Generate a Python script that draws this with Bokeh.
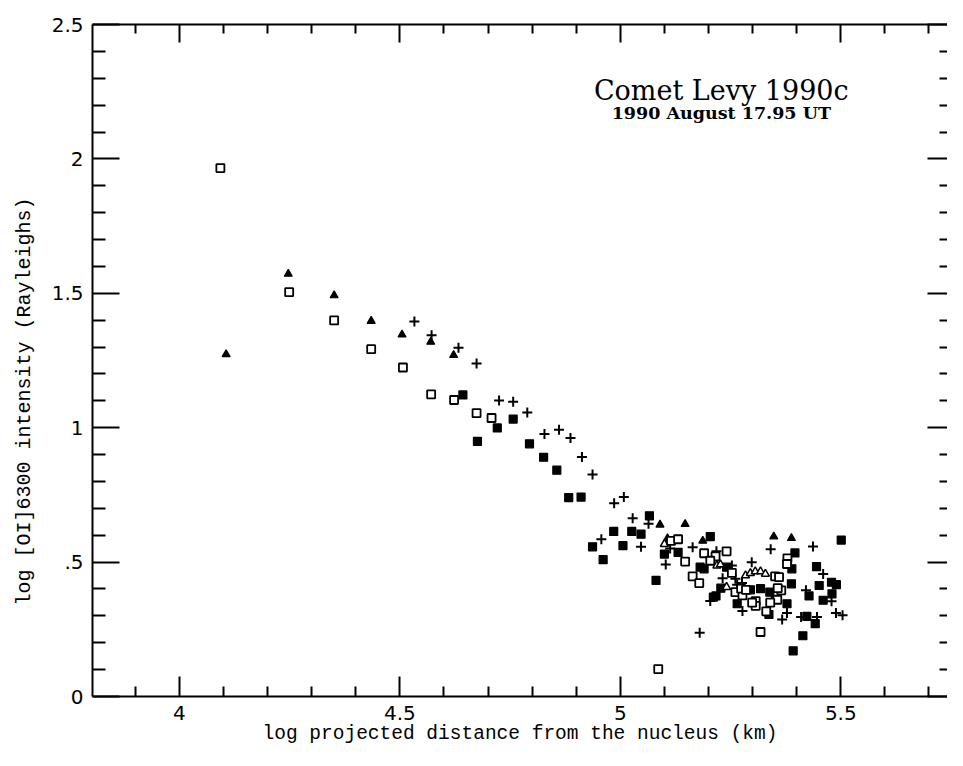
from bokeh.plotting import figure
from bokeh.models import (LinearAxis, FixedTicker, Label, Range1d,
                          CustomJSTickFormatter, Title)
from bokeh.embed import file_html
from bokeh.resources import INLINE

# ---------------- data ----------------
# open squares
sq_x = [4.093, 4.249, 4.351, 4.435, 4.507, 4.571, 4.623, 4.674, 4.708, 5.086,
        5.115, 5.131, 5.147, 5.190, 5.216, 5.241, 5.204, 5.164, 5.179, 5.253,
        5.351, 5.360, 5.379, 5.378, 5.365, 5.356, 5.340, 5.331, 5.318, 5.307,
        5.307, 5.299, 5.261, 5.277, 5.274, 5.285, 5.357]
sq_y = [1.966, 1.504, 1.399, 1.292, 1.224, 1.124, 1.103, 1.054, 1.036, 0.102,
        0.579, 0.585, 0.502, 0.533, 0.521, 0.540, 0.505, 0.447, 0.422, 0.460,
        0.447, 0.444, 0.514, 0.493, 0.395, 0.360, 0.349, 0.317, 0.240, 0.355,
        0.337, 0.349, 0.388, 0.376, 0.401, 0.397, 0.403]

# filled triangles
tri_x = [4.106, 4.247, 4.351, 4.435, 4.505, 4.570, 4.622, 5.090, 5.147, 5.348,
         5.388, 5.107, 5.187]
tri_y = [1.273, 1.572, 1.492, 1.397, 1.346, 1.319, 1.270, 0.639, 0.641, 0.595,
         0.589, 0.588, 0.579]

# open triangles
otri_x = [5.100, 5.219, 5.227, 5.284, 5.295, 5.306, 5.318, 5.329, 5.241, 5.345]
otri_y = [0.567, 0.487, 0.491, 0.450, 0.459, 0.465, 0.465, 0.456, 0.407, 0.357]

# plus signs
pl_x = [4.533, 4.572, 4.633, 4.674, 4.725, 4.757, 4.789, 4.828, 4.861, 4.887,
        4.913, 4.937, 4.986, 5.008, 5.028, 5.064, 4.957, 5.047, 5.103, 5.113,
        5.164, 5.218, 5.232, 5.204, 5.180, 5.253, 5.298, 5.341, 5.437, 5.460,
        5.479, 5.421, 5.378, 5.446, 5.489, 5.504, 5.277, 5.265, 5.276, 5.261,
        5.410, 5.367]
pl_y = [1.395, 1.344, 1.297, 1.239, 1.101, 1.097, 1.057, 0.977, 0.992, 0.962,
        0.891, 0.826, 0.719, 0.742, 0.663, 0.643, 0.585, 0.557, 0.491, 0.551,
        0.555, 0.540, 0.440, 0.355, 0.237, 0.487, 0.499, 0.548, 0.558, 0.456,
        0.354, 0.395, 0.311, 0.296, 0.311, 0.302, 0.318, 0.416, 0.422, 0.438,
        0.296, 0.286]

# filled squares
fs_x = [4.643, 4.757, 4.721, 4.676, 4.794, 4.826, 4.856, 4.883, 4.911, 5.066,
        4.985, 5.026, 5.047, 4.937, 5.006, 4.961, 5.100, 5.081, 5.131, 5.204,
        5.181, 5.190, 5.241, 5.228, 5.217, 5.396, 5.389, 5.445, 5.501, 5.451,
        5.479, 5.490, 5.480, 5.460, 5.428, 5.388, 5.378, 5.337, 5.392, 5.414,
        5.423, 5.442, 5.265, 5.295, 5.318, 5.339, 5.211]
fs_y = [1.122, 1.032, 0.999, 0.949, 0.940, 0.890, 0.842, 0.740, 0.742, 0.672,
        0.614, 0.614, 0.604, 0.557, 0.561, 0.509, 0.530, 0.432, 0.536, 0.595,
        0.481, 0.475, 0.481, 0.403, 0.374, 0.534, 0.475, 0.483, 0.582, 0.413,
        0.425, 0.416, 0.382, 0.358, 0.374, 0.419, 0.345, 0.305, 0.170, 0.226,
        0.298, 0.271, 0.345, 0.397, 0.401, 0.388, 0.370]

# ticks
x_major = [4.0, 4.5, 5.0, 5.5]
x_major_labels = ["4", "4.5", "5", "5.5"]
x_minor = [3.9, 4.1, 4.2, 4.3, 4.4, 4.6, 4.7, 4.8, 4.9, 5.1, 5.2, 5.3, 5.4, 5.6, 5.7]
y_major = [0.0, 0.5, 1.0, 1.5, 2.0, 2.5]
y_major_labels = ["0", ".5", "1", "1.5", "2", "2.5"]
y_minor = [0.1, 0.2, 0.3, 0.4, 0.6, 0.7, 0.8, 0.9, 1.1, 1.2, 1.3, 1.4,
           1.6, 1.7, 1.8, 1.9, 2.1, 2.2, 2.3, 2.4]

title_text = "Comet Levy 1990c"
subtitle_text = "1990 August 17.95 UT"
x_label = "log projected distance from the nucleus (km)"
y_label = "log [OI]6300 intensity (Rayleighs)"

# ---------------- figure ----------------
p = figure(width=947, height=750, output_backend="svg", toolbar_location=None,
           x_range=Range1d(3.803, 5.742), y_range=Range1d(0, 2.5),
           x_axis_location=None, y_axis_location=None,
           min_border_left=92, min_border_right=0, min_border_top=24,
           min_border_bottom=54)
p.outline_line_color = None
p.background_fill_color = "white"
p.border_fill_color = "white"
p.grid.visible = False

LABEL_FONT = "Liberation Mono"
TICK_FONT = "DejaVu Sans"


def style_axis(ax, major_in, minor_in):
    ax.major_tick_in = major_in
    ax.major_tick_out = 0
    ax.minor_tick_in = minor_in
    ax.minor_tick_out = 0
    ax.axis_line_width = 2
    ax.axis_line_color = "black"
    ax.major_tick_line_width = 2
    ax.minor_tick_line_width = 2
    ax.major_tick_line_color = "black"
    ax.minor_tick_line_color = "black"


xt = FixedTicker(ticks=x_major, minor_ticks=x_minor)
yt = FixedTicker(ticks=y_major, minor_ticks=y_minor)

bottom = LinearAxis(ticker=xt)
style_axis(bottom, 20, 10)
bottom.major_label_overrides = dict(zip(x_major, x_major_labels))
bottom.major_label_text_font = TICK_FONT
bottom.major_label_text_font_size = "20px"
bottom.major_label_text_color = "black"
bottom.major_label_standoff = 9
bottom.axis_label = x_label
bottom.axis_label_text_font = LABEL_FONT
bottom.axis_label_text_font_size = "19.5px"
bottom.axis_label_text_font_style = "normal"
bottom.axis_label_text_color = "black"
bottom.axis_label_standoff = 0
p.add_layout(bottom, "below")

left = LinearAxis(ticker=yt)
style_axis(left, 27, 13)
left.major_label_overrides = dict(zip(y_major, y_major_labels))
left.major_label_text_font = TICK_FONT
left.major_label_text_font_size = "20px"
left.major_label_text_color = "black"
left.major_label_standoff = 9
p.add_layout(left, "left")

# y-axis title as a side-panel title, shifted down to where the reference has it
y_title = Title(text=y_label, align="left", offset=91, vertical_align="top",
                standoff=21, text_font=LABEL_FONT, text_font_size="20px",
                text_font_style="normal", text_color="black")
p.add_layout(y_title, "left")

blank = "return '';"

top = LinearAxis(ticker=FixedTicker(ticks=x_major, minor_ticks=x_minor),
                 formatter=CustomJSTickFormatter(code=blank))
style_axis(top, 18, 9)
top.major_label_standoff = 0
top.major_label_text_color = None
p.add_layout(top, "above")

right = LinearAxis(ticker=FixedTicker(ticks=y_major, minor_ticks=y_minor),
                   formatter=CustomJSTickFormatter(code=blank))
style_axis(right, 20, 8)
right.axis_line_color = None
right.major_label_standoff = 0
right.major_label_text_color = None
p.add_layout(right, "right")

# ---------------- data marks ----------------
p.scatter(fs_x, fs_y, marker="square_x", size=8, fill_color="black",
          line_color="black", line_width=1.2)
p.scatter(pl_x, pl_y, marker="cross", size=10, line_color="black", line_width=2)
p.scatter(tri_x, tri_y, marker="triangle", size=8, fill_color="black",
          line_color="black", line_width=1.2)
p.scatter(otri_x, otri_y, marker="triangle", size=8, fill_color="white",
          line_color="black", line_width=1.5)
p.scatter(sq_x, sq_y, marker="square", size=8, fill_color="white",
          line_color="black", line_width=1.8)

# ---------------- annotation text ----------------
p.add_layout(Label(x=5.229, y=2.254, text=title_text, text_align="center",
                   text_baseline="alphabetic", text_font="DejaVu Serif",
                   text_font_size="27px", text_color="black"))
p.add_layout(Label(x=5.229, y=2.169, text=subtitle_text, text_align="center",
                   text_baseline="alphabetic", text_font="DejaVu Serif",
                   text_font_style="bold", text_font_size="17.5px",
                   text_color="black"))

open("out.html", "w").write(file_html(p, INLINE))
